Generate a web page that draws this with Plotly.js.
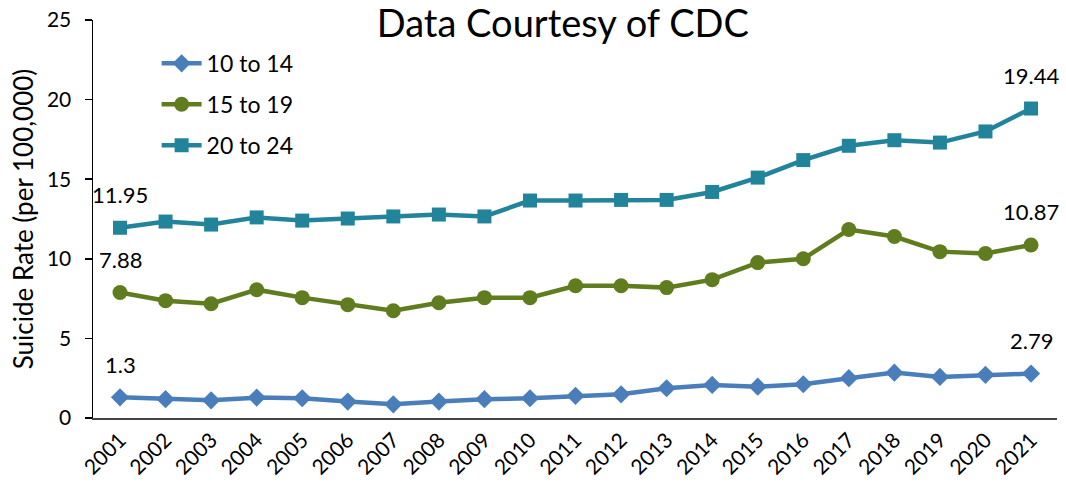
<!DOCTYPE html>
<html>
<head>
<meta charset="utf-8">
<script src="https://cdn.plot.ly/plotly-3.0.1.min.js"></script>
<style>html,body{margin:0;padding:0;background:#fff;}#chart{width:1066px;height:484px;}</style>
</head>
<body>
<div id="chart"></div>
<script>
const years = [2001,2002,2003,2004,2005,2006,2007,2008,2009,2010,2011,2012,2013,2014,2015,2016,2017,2018,2019,2020,2021];
const seriesNames = ["10 to 14","15 to 19","20 to 24"];
const age10to14 = [1.3,1.18,1.11,1.28,1.24,1.03,0.86,1.03,1.18,1.24,1.39,1.49,1.87,2.08,1.97,2.12,2.5,2.85,2.58,2.71,2.79];
const age15to19 = [7.88,7.37,7.18,8.06,7.56,7.12,6.74,7.24,7.56,7.56,8.31,8.31,8.19,8.69,9.76,10.0,11.84,11.4,10.45,10.33,10.87];
const age20to24 = [11.95,12.34,12.15,12.6,12.4,12.53,12.66,12.78,12.66,13.66,13.66,13.7,13.7,14.2,15.1,16.2,17.1,17.45,17.3,18.0,19.44];

const allSeries = [age10to14, age15to19, age20to24];
const colors = ["#4a7ebb","#5f7d1f","#22849b"];
const symbols = ["diamond","circle","square"];
const sizes = [14,15,14];
const FONT = "Lato, 'Open Sans', sans-serif";

const traces = allSeries.map((vals,i)=>({
  x: years, y: vals, name: seriesNames[i], type:"scatter", mode:"lines+markers",
  legendgroup: "g"+i,
  line:{color:colors[i], width:4.5},
  marker:{symbol:symbols[i], size:sizes[i], color:colors[i]}
}));

const annotations = [];
allSeries.forEach(vals=>{
  [0, vals.length-1].forEach(idx=>{
    annotations.push({x: years[idx], y: vals[idx], xref:"x", yref:"y",
      text: String(vals[idx]), showarrow:false, yshift:33,
      font:{family:FONT, size:22, color:"#000"}});
  });
});

const layout = {
  width:1066, height:484,
  margin:{l:93, r:9, t:20, b:66},
  paper_bgcolor:"#fff", plot_bgcolor:"#fff",
  font:{family:FONT, color:"#000"},
  title:{text:"Data Courtesy of CDC", font:{family:FONT, size:38, color:"#000"},
    x:0.528, xref:"container", xanchor:"center", y:0.952, yref:"container", yanchor:"middle"},
  showlegend:true,
  legend:{x:0.066, y:0.945, xanchor:"left", yanchor:"top", font:{family:FONT, size:23, color:"#000"},
    bgcolor:"rgba(0,0,0,0)", tracegroupgap:8, itemwidth:40},
  xaxis:{range:[2000.407, 2021.57], tickmode:"array", tickvals:years, ticktext:years.map(String),
    tickangle:-45, tickfont:{family:FONT, size:21}, showgrid:false, zeroline:false,
    showline:true, linecolor:"#444", linewidth:1.5, ticks:"", fixedrange:true},
  yaxis:{range:[0,25], dtick:5, tickfont:{family:FONT, size:21}, showgrid:false, zeroline:false,
    showline:true, linecolor:"#000", linewidth:1.5, ticks:"outside", ticklen:7, tickwidth:1.5, tickcolor:"#000",
    ticklabelstandoff:9,
    title:{text:"Suicide Rate (per 100,000)", font:{family:FONT, size:26}, standoff:6}},
  annotations: annotations
};

Plotly.newPlot("chart", traces, layout, {displayModeBar:false, staticPlot:true});
</script>
</body>
</html>
